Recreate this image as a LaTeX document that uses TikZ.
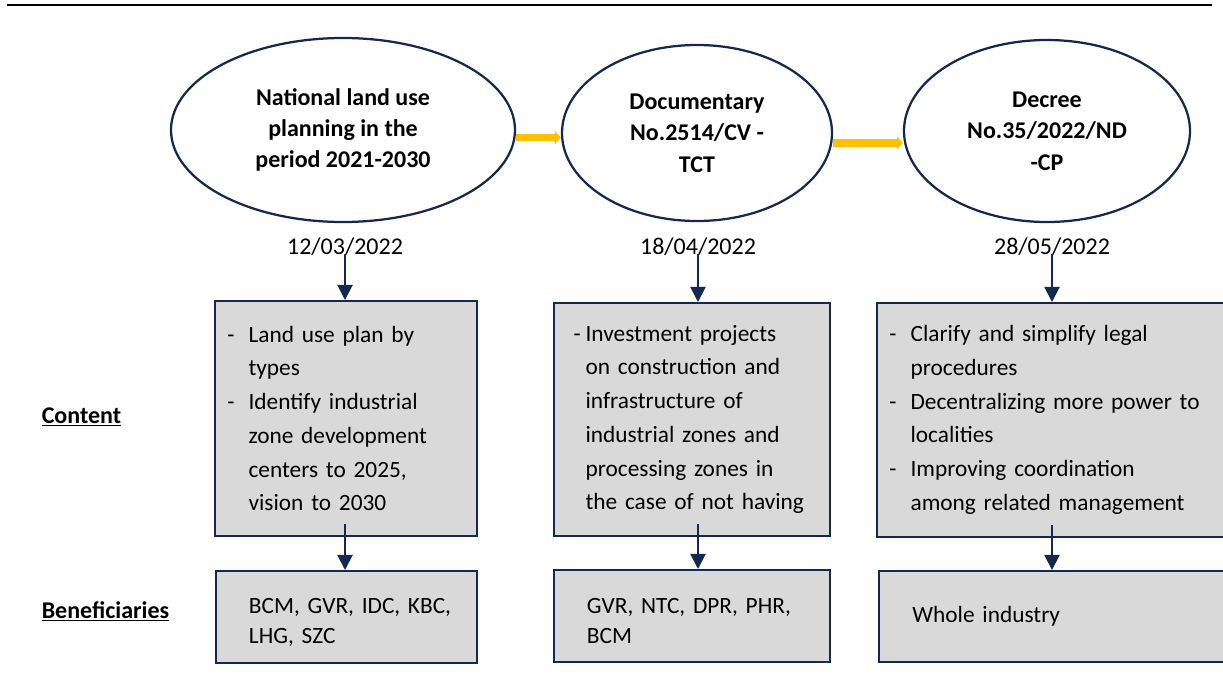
\documentclass[tikz,border=0pt]{standalone}
\usepackage{fontspec}
\setmainfont{Carlito}
\usepackage{xcolor}
\usepackage{tikz}
\usetikzlibrary{shapes.geometric,arrows.meta}

\definecolor{navy}{HTML}{14294F}
\definecolor{boxgray}{HTML}{D9D9D9}
\definecolor{gold}{HTML}{FFC000}

\newcommand{\dashit}[1][0.53cm]{\makebox[#1][l]{-}}
\newcommand{\indnt}[1][0.53cm]{\hspace*{#1}}
\newcommand{\benpad}{\hspace*{0.835cm}}
\newcommand{\bentop}{\rule{0pt}{0.64cm}}

\begin{document}
\begin{tikzpicture}[
  milestone/.style={ellipse,draw=navy,line width=1.6pt,inner sep=0pt,align=center,font=\fontsize{17.07}{22.3}\selectfont\bfseries},
  datelabel/.style={anchor=base,inner sep=0pt,font=\fontsize{17.07}{24}\selectfont},
  infobox/.style={rectangle,draw=navy,fill=boxgray,line width=1.4pt,anchor=north west,align=left,inner ysep=0pt,font=\fontsize{16.6}{24}\selectfont},
  benbox/.style={infobox,inner xsep=0pt,font=\fontsize{16.6}{21.3}\selectfont},
  rowlabel/.style={anchor=base west,inner sep=0pt,font=\fontsize{17.07}{24}\selectfont\bfseries},
  flow/.style={-{Triangle[length=4.3pt,width=9.2pt]},gold,line width=5pt},
  down/.style={-{Triangle[length=10.7pt,width=10.7pt]},navy,line width=1.4pt}
]
\path[use as bounding box,clip] (0,0) rectangle (30.575,-17.325);

\draw[line width=1.8pt] (0.175,-0.125) -- (30.3,-0.125);

% documents
\node[milestone,minimum width=8.6cm,minimum height=4.6cm] (plan) at (8.575,-3.25) {National land use\\planning in the\\period 2021-2030};
\node[milestone,minimum width=6.75cm,minimum height=4.4cm] (doc) at (17.425,-3.325) {Documentary\\No.2514/CV -\\TCT};
\node[milestone,minimum width=7.15cm,minimum height=4.55cm] (decree) at (26.175,-3.275) {Decree\\No.35/2022/ND\\-CP};

\node[datelabel] (d1) at (8.625,-6.35) {12/03/2022};
\node[datelabel] (d2) at (17.45,-6.35) {18/04/2022};
\node[datelabel] (d3) at (26.3,-6.35) {28/05/2022};

% row labels
\node[rowlabel] (content) at (1.0375,-10.575) {\underline{Content}};
\node[rowlabel] (benef) at (1.0375,-15.45) {\underline{Beneficiaries}};

% content boxes
\node[infobox,inner xsep=0.31cm,text width=5.92cm,minimum height=5.875cm] (cont1) at (5.35,-7.5) {\dashit Land use plan by\\\indnt types\\\dashit Identify industrial\\\indnt zone development\\\indnt centers to 2025,\\\indnt vision to 2030};
\node[infobox,inner xsep=0.5cm,text width=5.91cm,minimum height=5.825cm] (cont2) at (13.815,-7.55) {\dashit[0.3cm]Investment projects\\\indnt[0.3cm]on construction and\\\indnt[0.3cm]infrastructure of\\\indnt[0.3cm]industrial zones and\\\indnt[0.3cm]processing zones in\\\indnt[0.3cm]the case of not having};
\node[infobox,inner xsep=0.31cm,text width=8.88cm,minimum height=5.85cm] (cont3) at (21.9,-7.55) {\dashit Clarify and simplify legal\\\indnt procedures\\\dashit Decentralizing more power to\\\indnt localities\\\dashit Improving coordination\\\indnt among related management};

% beneficiaries
\node[benbox,text width=6.535cm,minimum height=2.3cm] (ben1) at (5.365,-14.25) {\bentop\benpad\makebox[5.2cm][s]{BCM, GVR, IDC, KBC,}\\\benpad LHG, SZC};
\node[benbox,text width=6.91cm,minimum height=2.3cm] (ben2) at (13.815,-14.225) {\bentop\benpad\makebox[5.55cm][s]{GVR, NTC, DPR, PHR,}\\\benpad BCM};
\node[benbox,text width=9.05cm,minimum height=2.275cm] (ben3) at (21.95,-14.25) {\benpad Whole industry};

% arrows
\coordinate (f1) at ([yshift=-0.19cm]plan.east);
\coordinate (f2) at ([yshift=-0.25cm]doc.east);
\draw[flow] (f1) -- (f1 -| doc.west);
\draw[flow] (f2) -- (f2 -| decree.west);

\draw[down] (d1.base) -- (d1.base |- cont1.north);
\draw[down] (d2.base) -- (d2.base |- cont2.north);
\draw[down] (d3.base) -- (d3.base |- cont3.north);

\path (d1 |- cont1.south) ++(0,0.33) coordinate (s1);
\path (d2 |- cont2.south) ++(0,0.33) coordinate (s2);
\path (d3 |- cont3.south) ++(0,0.33) coordinate (s3);
\draw[down] (s1) -- (s1 |- ben1.north);
\draw[down] (s2) -- (s2 |- ben2.north);
\draw[down] (s3) -- (s3 |- ben3.north);

\end{tikzpicture}
\end{document}
